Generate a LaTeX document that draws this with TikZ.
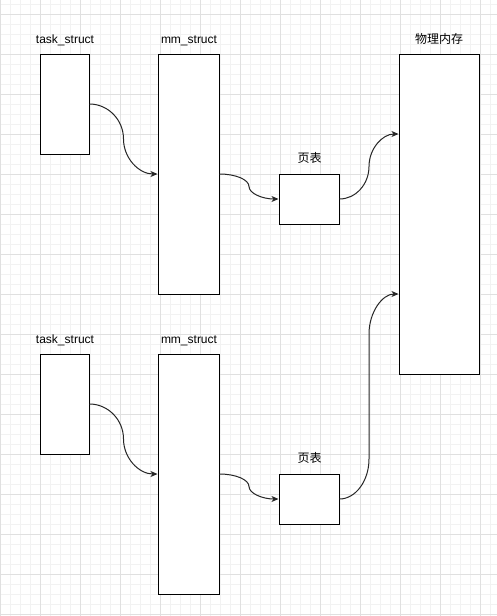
\documentclass[tikz,border=0pt]{standalone}
\usepackage{fontspec}
\setmainfont{Liberation Sans}
\newfontfamily\cjk{Noto Sans CJK SC}
\usetikzlibrary{arrows.meta}
\begin{document}
\begin{tikzpicture}[x=1pt,y=-1pt,
  box/.style={draw=black,fill=white,line width=1pt,inner sep=0pt},
  lbl/.style={font=\fontsize{12}{14}\selectfont,inner sep=0pt},
  cjklbl/.style={font=\fontsize{12}{14}\selectfont\cjk,inner sep=0pt},
  link/.style={draw=black!85,line width=1pt,-{Stealth[length=7pt,width=6pt,inset=2pt]}},
  minorgrid/.style={draw=black!5,line width=0.6pt},
  majorgrid/.style={draw=black!12,line width=0.8pt}]
\useasboundingbox (0,0) rectangle (497,616);
\fill[white] (0,0) rectangle (497,616);
% grid
\foreach \x in {0,10,...,490} \draw[minorgrid] (\x,0) -- (\x,616);
\foreach \y in {4,14,...,614} \draw[minorgrid] (0,\y) -- (497,\y);
\foreach \x in {0,40,...,480} \draw[majorgrid] (\x,0) -- (\x,616);
\foreach \y in {14,54,...,614} \draw[majorgrid] (0,\y) -- (497,\y);

% boxes row 1
\node[box,minimum width=49pt,minimum height=100pt] (t1) at (64.5,104) {};
\node[box,minimum width=61pt,minimum height=240pt] (m1) at (188.5,174) {};
\node[box,minimum width=60pt,minimum height=50pt] (p1) at (309,199) {};
\node[box,minimum width=80pt,minimum height=320pt] (mem) at (439,214) {};
% boxes row 2
\node[box,minimum width=49pt,minimum height=100pt] (t2) at (64.5,404) {};
\node[box,minimum width=61pt,minimum height=240pt] (m2) at (188.5,474) {};
\node[box,minimum width=60pt,minimum height=50pt] (p2) at (309,499) {};

% labels
\node[lbl,anchor=base] (lt1) at (65,43.5) {task\_struct};
\node[lbl,anchor=base] (lm1) at (189,43.5) {mm\_struct};
\node[cjklbl] (lp1) at (309.5,158) {页表};
\node[cjklbl] (lmem) at (439,38.5) {物理内存};
\node[lbl,anchor=base] (lt2) at (65,343.5) {task\_struct};
\node[lbl,anchor=base] (lm2) at (189,343.5) {mm\_struct};
\node[cjklbl] (lp2) at (309.5,458) {页表};

% connectors row 1
\draw[link] (t1.east) .. controls (108,104) and (123.5,119.75) .. (123.5,139)
  .. controls (123.5,158.25) and (139,174) .. (m1.west |- 0,174);
\draw[link] (m1.east |- 0,174) .. controls (235.5,174) and (249,179.6) .. (249,186.5)
  .. controls (249,193.4) and (262.5,199) .. (p1.west);
\draw[link] (p1.east) .. controls (355.5,199) and (369,184.4) .. (369,166.5)
  .. controls (369,148.6) and (382.5,134) .. (mem.west |- 0,134);
% connectors row 2
\draw[link] (t2.east) .. controls (108,404) and (123.5,419.75) .. (123.5,439)
  .. controls (123.5,458.25) and (139,474) .. (m2.west |- 0,474);
\draw[link] (m2.east |- 0,474) .. controls (235.5,474) and (249,479.6) .. (249,486.5)
  .. controls (249,493.4) and (262.5,499) .. (p2.west);
\draw[link] (p2.east) .. controls (355.5,499) and (369,481) .. (369,459) -- (369,334)
  .. controls (369,312) and (382.5,294) .. (mem.west |- 0,294);
\end{tikzpicture}
\end{document}
